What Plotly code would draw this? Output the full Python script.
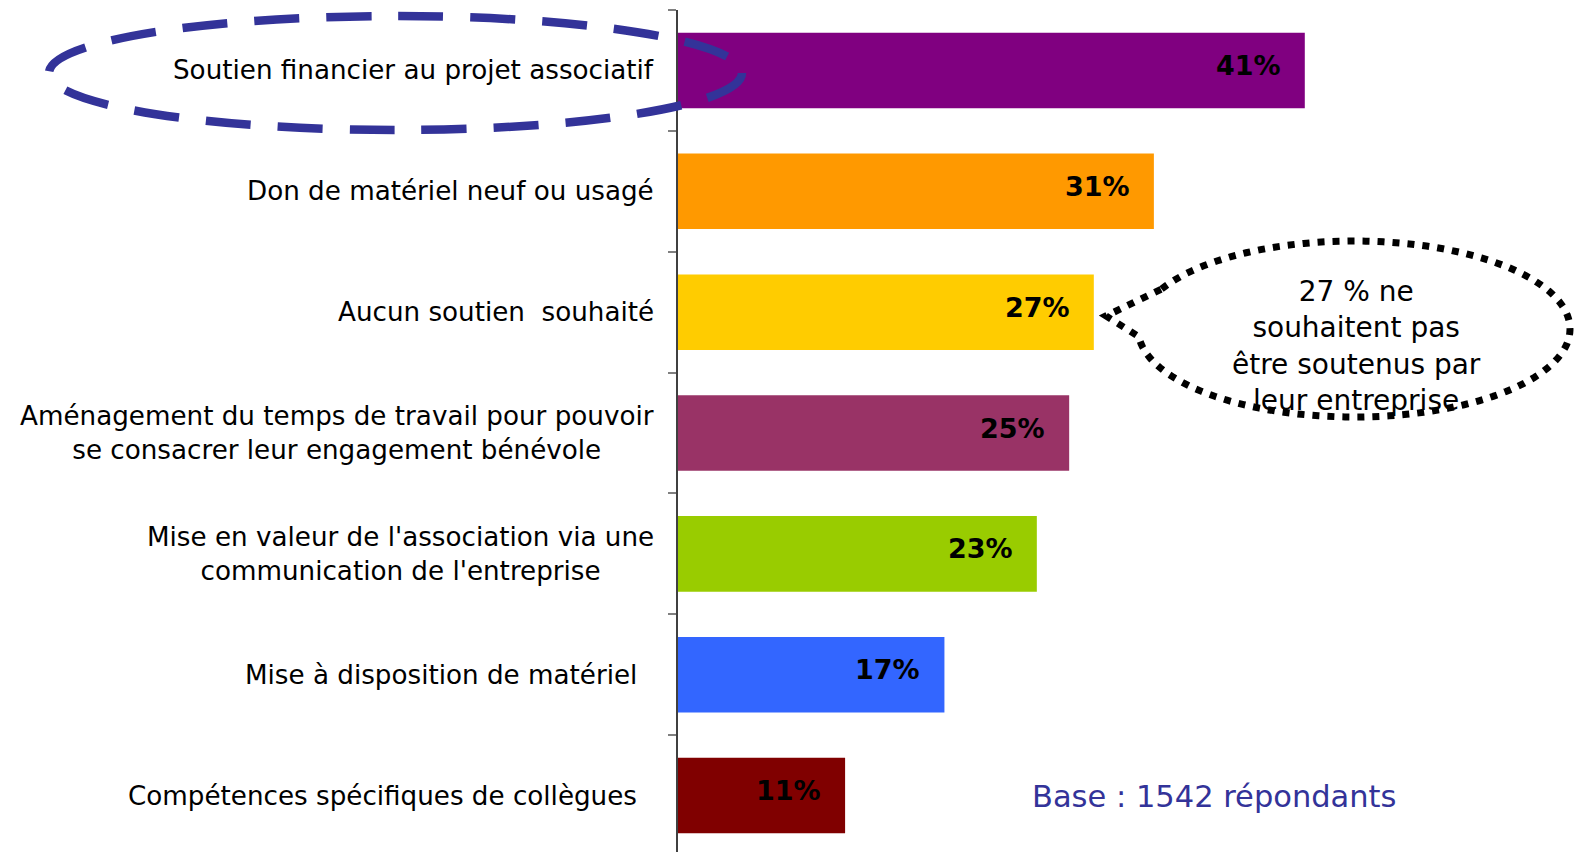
import numpy as np
import plotly.graph_objects as go

categories = [
    "Soutien financier au projet associatif",
    "Don de matériel neuf ou usagé",
    "Aucun soutien\u00a0\u00a0souhaité",
    "Aménagement du temps de travail pour pouvoir<br>se consacrer leur engagement bénévole",
    "Mise en valeur de l'association via une<br>communication de l'entreprise",
    "Mise à disposition de matériel\u00a0\u00a0",
    "Compétences spécifiques de collègues\u00a0\u00a0",
]
values = [40.7, 30.9, 27.0, 25.4, 23.3, 17.3, 10.85]
value_labels = ["41%", "31%", "27%", "25%", "23%", "17%", "11%"]
bar_colors = ["#800080", "#FF9900", "#FFCC00", "#993366", "#99CC00", "#3366FF", "#800000"]
callout_text = "27 % ne<br>souhaitent pas<br>être soutenus par<br>leur entreprise"
base_text = "Base : 1542 répondants"

W, H = 1582, 852
ML, MR, MT, MB = 670, 18, 2, 4
PW, PH = W - ML - MR, H - MT - MB
XMAX = 58.05
N = len(categories)


def px(x):
    return (x - ML) / PW


def py(y):
    return (H - MB - y) / PH


fig = go.Figure()
fig.add_trace(go.Bar(
    x=values, y=list(range(N)), orientation="h",
    marker=dict(color=bar_colors, line=dict(width=0)),
    hoverinfo="skip",
))

ann = []
for i, (c, v, lab) in enumerate(zip(categories, values, value_labels)):
    ann.append(dict(x=0, xref="paper", y=i, yref="y", text=c, xanchor="right",
                    xshift=-22, showarrow=False, align="center",
                    font=dict(family="DejaVu Sans", size=26.2, color="#000")))
    ann.append(dict(x=v, xref="x", y=i, yref="y", text=f"<b>{lab}</b>", xanchor="right",
                    xshift=-22, yshift=5, showarrow=False,
                    font=dict(family="DejaVu Sans", size=27, color="#000")))

ann.append(dict(x=px(1348), y=py(337.5), xref="paper", yref="paper", text=callout_text,
                showarrow=False, align="center", xanchor="center", yanchor="middle",
                font=dict(family="DejaVu Sans", size=28, color="#000")))
ann.append(dict(x=px(1206), y=py(788), xref="paper", yref="paper", text=base_text,
                showarrow=False, xanchor="center", yanchor="middle",
                font=dict(family="DejaVu Sans", size=30.5, color="#333399")))

# callout path: ellipse with pointer
cx, cy, rx, ry = 1346, 321, 216, 88
th = np.radians(np.linspace(207, 535, 140))
xs = cx + rx * np.cos(th)
ys = cy + ry * np.sin(th)
tip = (1098, 308)
path = "M " + " L ".join(f"{px(a):.5f},{py(b):.5f}" for a, b in zip(xs, ys))
path += f" L {px(tip[0]):.5f},{py(tip[1]):.5f} Z"

shapes = [
    dict(type="circle", xref="paper", yref="paper",
         x0=px(41), x1=px(734), y0=py(122), y1=py(8),
         line=dict(color="#333399", width=8.5, dash="45px,27px"), layer="above"),
    dict(type="path", xref="paper", yref="paper", path=path,
         line=dict(color="#000", width=7, dash="7px,8px"), layer="above"),
]

fig.update_layout(
    width=W, height=H,
    margin=dict(l=ML, r=MR, t=MT, b=MB),
    paper_bgcolor="white", plot_bgcolor="white",
    bargap=0.375, showlegend=False,
    annotations=ann, shapes=shapes,
    xaxis=dict(range=[0, XMAX], visible=False, showgrid=False, zeroline=False),
    yaxis=dict(range=[N - 0.5, -0.5], tickmode="array",
               tickvals=[k - 0.5 for k in range(N + 1)], ticktext=[""] * (N + 1),
               showticklabels=False, ticks="outside", ticklen=8,
               tickcolor="#808080", tickwidth=1.5, showline=True, linecolor="#404040",
               linewidth=1.5, showgrid=False, zeroline=False),
)

fig.write_html("out.html")
